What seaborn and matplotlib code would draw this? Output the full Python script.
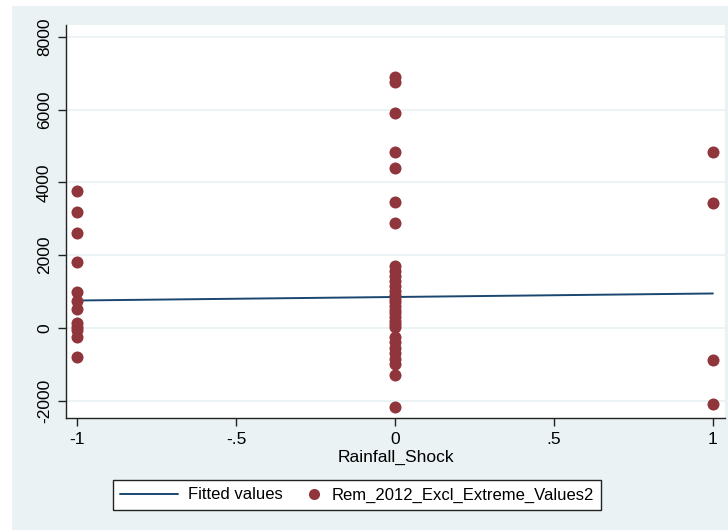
import matplotlib
matplotlib.use("Agg")
import matplotlib.pyplot as plt
from matplotlib.lines import Line2D
from matplotlib.legend_handler import HandlerLine2D
from matplotlib.patches import Rectangle
import seaborn as sns
import pandas as pd

# ---- data ----
shock_neg = [3760, 3190, 2610, 1800, 990, 730, 506, 120, 30, -60, -248, -814]
shock_zero = [6907, 6769, 5898, 4825, 4385, 3466, 2872,
              1700, 1560, 1420, 1280, 1150, 1020, 900, 800, 700, 600, 500,
              400, 300, 200, 100, 30,
              -250, -400, -550, -700, -850, -1000, -1300, -2173]
shock_pos = [4842, 3422, -889, -2099]
fit_x = [-1, 1]
fit_y = [752, 945]

x_ticks = [-1, -0.5, 0, 0.5, 1]
x_ticklabels = ["-1", "-.5", "0", ".5", "1"]
y_ticks = [-2000, 0, 2000, 4000, 6000, 8000]

points = pd.DataFrame({
    "Rainfall_Shock": [-1] * len(shock_neg) + [0] * len(shock_zero) + [1] * len(shock_pos),
    "Rem": shock_neg + shock_zero + shock_pos,
})
fit = pd.DataFrame({"Rainfall_Shock": fit_x, "Fitted": fit_y})

BG = "#EAF2F3"
MAROON = "#90353B"
NAVY = "#1A476F"

sns.set_style("white")
plt.rcParams["font.family"] = ["Liberation Sans", "DejaVu Sans"]
plt.rcParams["text.color"] = "black"

fig = plt.figure(figsize=(7.28, 5.30), dpi=100, facecolor="white")
bg = Rectangle((12 / 728, 0), 1 - 12 / 728, 1 - 6 / 530,
               transform=fig.transFigure, facecolor=BG,
               edgecolor="none", zorder=-10)
fig.patches.append(bg)
ax = fig.add_axes([66 / 728, 1 - 418 / 530, (725 - 66) / 728, (418 - 25) / 530])
ax.set_zorder(1)
ax.set_facecolor("white")

sns.lineplot(data=fit, x="Rainfall_Shock", y="Fitted", ax=ax, color=NAVY,
             linewidth=1.4, zorder=2, legend=False)
sns.scatterplot(data=points, x="Rainfall_Shock", y="Rem", ax=ax, color=MAROON,
                s=75, linewidth=0, zorder=3, legend=False)

ax.set_xlim(-1.035, 1.038)
ax.set_ylim(-2480, 8330)
ax.set_xticks(x_ticks)
ax.set_xticklabels(x_ticklabels)
ax.set_yticks(y_ticks)
ax.set_yticklabels([str(v) for v in y_ticks], rotation=90, va="center")
ax.yaxis.grid(True, color=BG, linewidth=1.3, zorder=0)
ax.xaxis.grid(False)
ax.set_axisbelow(True)
for side in ["top", "right"]:
    ax.spines[side].set_visible(False)
for side in ["left", "bottom"]:
    ax.spines[side].set_color("#222222")
    ax.spines[side].set_linewidth(1.0)
ax.tick_params(axis="both", direction="out", length=6, width=1.0,
               color="#222222", labelsize=12.5, labelcolor="black", pad=4,
               left=True, bottom=True)
ax.set_xlabel("Rainfall_Shock", fontsize=12.5, labelpad=2, color="black")
ax.set_ylabel("")


class SmallHandler(HandlerLine2D):
    def legend_artist(self, legend, orig_handle, fontsize, handlebox):
        handlebox.width = 0.9 * fontsize
        return super().legend_artist(legend, orig_handle, fontsize, handlebox)


h_line = Line2D([], [], color=NAVY, linewidth=1.4)
h_pt = Line2D([], [], color=MAROON, marker="o", linestyle="none", markersize=8,
              markeredgewidth=0)
leg = fig.legend([h_line, h_pt], ["Fitted values", "Rem_2012_Excl_Extreme_Values2"],
                 loc="center", bbox_to_anchor=(357 / 728, 1 - 495 / 530),
                 ncol=2, fontsize=12, handlelength=3.5, handletextpad=0.6,
                 columnspacing=1.4, borderpad=0.45, frameon=True, fancybox=False,
                 edgecolor="#222222", facecolor="white", framealpha=1,
                 handler_map={h_pt: SmallHandler(numpoints=1)})
leg.get_frame().set_linewidth(1.0)
for t in leg.get_texts():
    t.set_color("black")

fig.savefig("out.png", dpi=100, facecolor=fig.get_facecolor())
